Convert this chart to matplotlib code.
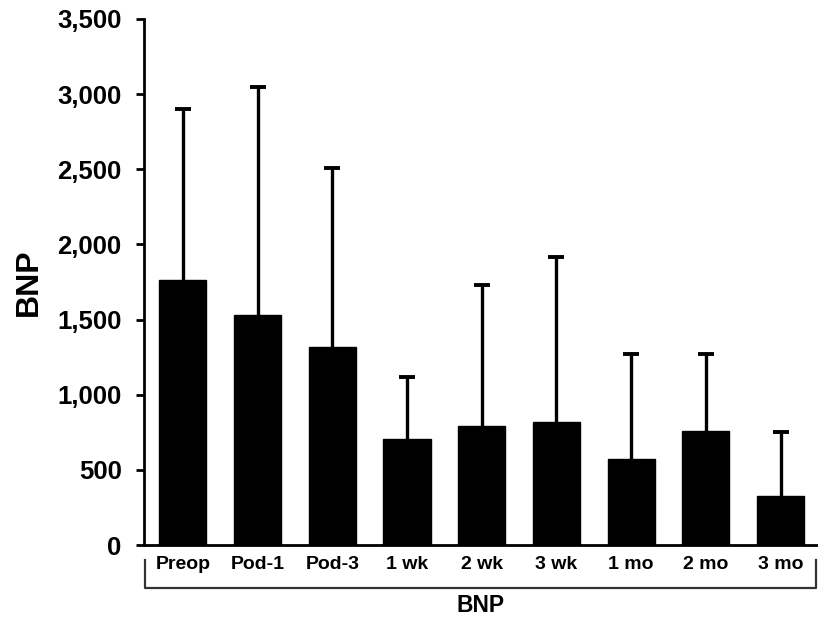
import matplotlib
matplotlib.use("Agg")
import matplotlib.pyplot as plt
from matplotlib.lines import Line2D

categories = ["Preop", "Pod-1", "Pod-3", "1 wk", "2 wk", "3 wk", "1 mo", "2 mo", "3 mo"]
means = [1765, 1530, 1320, 703, 795, 820, 572, 758, 326]
upper = [2900, 3045, 2510, 1120, 1730, 1918, 1271, 1271, 754]
yticks = [0, 500, 1000, 1500, 2000, 2500, 3000, 3500]
ytick_labels = ["0", "500", "1,000", "1,500", "2,000", "2,500", "3,000", "3,500"]
y_label = "BNP"
group_label = "BNP"

plt.rcParams['font.family'] = ['Liberation Sans', 'DejaVu Sans']

fig = plt.figure(figsize=(8.18, 6.18), dpi=100)
ax = fig.add_axes([0.176, 0.1181, 0.824, 0.8512])

x = list(range(len(categories)))
ax.bar(x, means, width=0.63, color="black", edgecolor="black", zorder=2)
# upward-only error bars with a single cap
ax.vlines(x, means, upper, colors="black", linewidth=2.4, zorder=1)
ax.plot(x, upper, linestyle="none", marker="_", markersize=12,
        markeredgewidth=2.8, color="black", zorder=1)

ax.set_xlim(-0.52, 8.5)
ax.set_ylim(0, 3500)
ax.set_yticks(yticks)
ax.set_yticklabels(ytick_labels, fontsize=18.5, fontweight="bold")
ax.set_xticks(x)
ax.set_xticklabels(categories, fontsize=14, fontweight="bold")
ax.tick_params(axis="x", length=0, pad=8)
ax.tick_params(axis="y", length=6, width=2, pad=10)

for s in ["top", "right"]:
    ax.spines[s].set_visible(False)
ax.spines["left"].set_linewidth(2)
ax.spines["bottom"].set_linewidth(2)

ax.set_ylabel(y_label, fontsize=23, fontweight="bold", labelpad=10)

# bracket below tick labels
fx0, fx1 = 145 / 818, 816 / 818
fy_top, fy_bot = 1 - 560 / 618, 1 - 588 / 618
fig.add_artist(Line2D([fx0, fx0, fx1, fx1], [fy_top, fy_bot, fy_bot, fy_top],
                      transform=fig.transFigure, color="#333333", linewidth=1.6))
fig.text((fx0 + fx1) / 2, 1 - 605 / 618, group_label, ha="center", va="center",
         fontsize=16.5, fontweight="bold")

fig.savefig("out.png", dpi=100, facecolor="white")
